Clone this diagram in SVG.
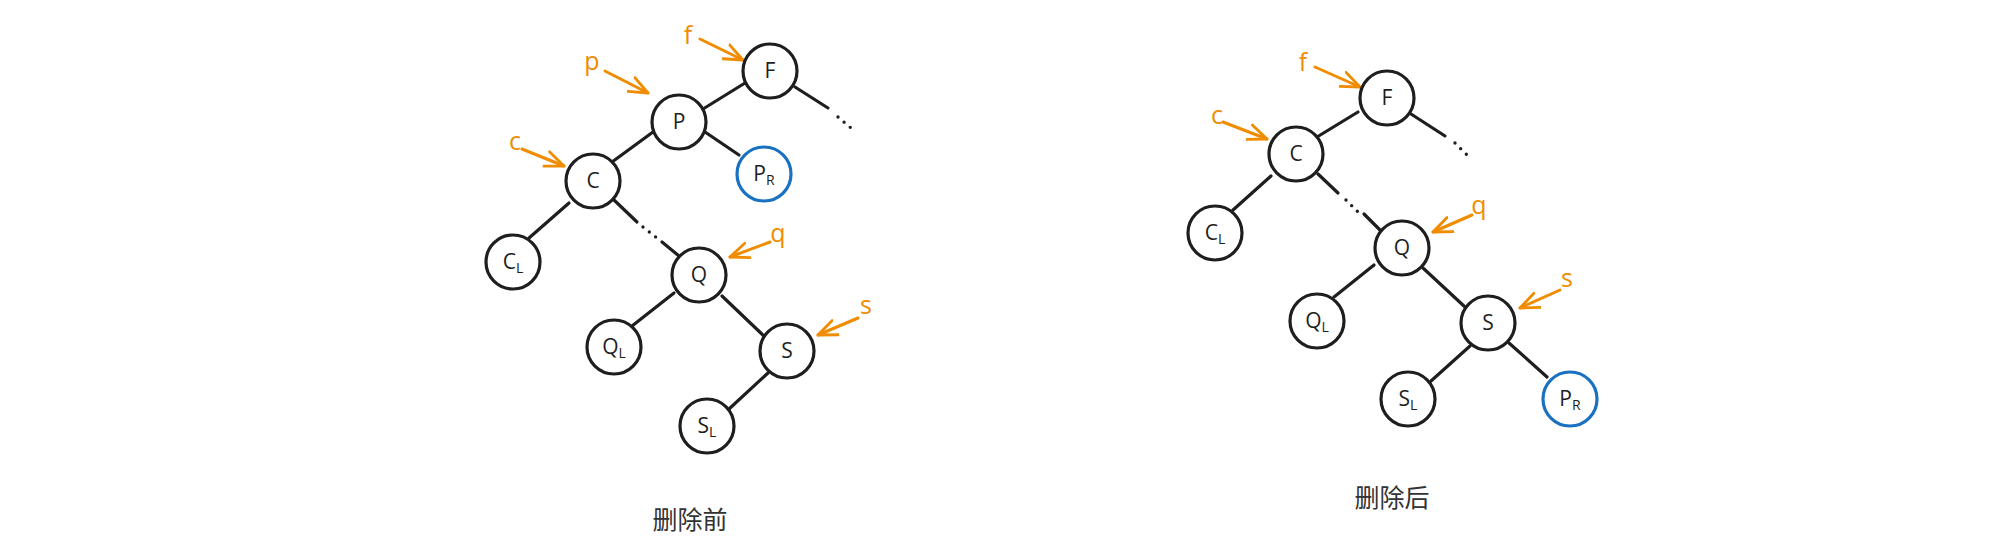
<svg xmlns="http://www.w3.org/2000/svg" width="2005" height="544" viewBox="0 0 2005 544">
<style>
.n{fill:#fff;stroke:#1e1e1e;stroke-width:3.2}
.b{fill:#fff;stroke:#1971c2;stroke-width:3.2}
.t{font-family:"Open Sans","Noto Sans",sans-serif;font-size:21px;fill:#1e1e1e;text-anchor:middle}
.sub{font-size:14px}
.e{stroke:#1e1e1e;stroke-width:3.2;stroke-linecap:round;fill:none}
.d{stroke:#1e1e1e;stroke-width:3.4;stroke-linecap:round;stroke-dasharray:0 8;fill:none}
.o{stroke:#f08c00;stroke-width:3;stroke-linecap:round;fill:none}
.ol{font-family:"Open Sans","Noto Sans",sans-serif;font-size:25px;fill:#f08c00;text-anchor:middle}
.cap{font-family:"Open Sans","Noto Sans CJK SC",sans-serif;font-size:25px;fill:#333;text-anchor:middle}
</style>
<defs>
<marker id="ah" viewBox="0 0 20 20" refX="18" refY="10" markerWidth="22" markerHeight="22" markerUnits="userSpaceOnUse" orient="auto">
<path d="M1,3 L18,10 L1,17" fill="none" stroke="#f08c00" stroke-width="2.6" stroke-linecap="round" stroke-linejoin="round"/>
</marker>
</defs>
<rect width="2005" height="544" fill="#fff"/>
<g id="connectors">
<line class="e" x1="745" y1="83" x2="703" y2="109"/>
<line class="e" x1="795" y1="87" x2="828" y2="108"/>
<path class="d" d="M838,117 L851,128"/>
<line class="e" x1="653" y1="132" x2="612" y2="162"/>
<line class="e" x1="705" y1="132" x2="739" y2="155"/>
<line class="e" x1="569" y1="203" x2="529" y2="238"/>
<line class="e" x1="614" y1="200" x2="637" y2="222"/>
<path class="d" d="M643,227 L657,238"/>
<line class="e" x1="662" y1="242" x2="679" y2="256"/>
<line class="e" x1="674" y1="293" x2="632" y2="326"/>
<line class="e" x1="722" y1="296" x2="765" y2="337"/>
<line class="e" x1="768" y1="373" x2="729" y2="409"/>
<line class="e" x1="1358" y1="112" x2="1317" y2="137"/>
<line class="e" x1="1411" y1="114" x2="1445" y2="136"/>
<path class="d" d="M1455,143 L1467,155"/>
<line class="e" x1="1271" y1="176" x2="1233" y2="210"/>
<line class="e" x1="1318" y1="174" x2="1338" y2="193"/>
<path class="d" d="M1346,200 L1359,213"/>
<line class="e" x1="1364" y1="214" x2="1380" y2="230"/>
<line class="e" x1="1374" y1="265" x2="1334" y2="297"/>
<line class="e" x1="1423" y1="268" x2="1465" y2="307"/>
<line class="e" x1="1470" y1="346" x2="1431" y2="381"/>
<line class="e" x1="1509" y1="343" x2="1547" y2="377"/>
<line class="o" x1="700" y1="39" x2="743" y2="60" marker-end="url(#ah)"/>
<line class="o" x1="605" y1="71" x2="648" y2="93" marker-end="url(#ah)"/>
<line class="o" x1="522" y1="149" x2="564" y2="166" marker-end="url(#ah)"/>
<line class="o" x1="770" y1="242" x2="730" y2="257" marker-end="url(#ah)"/>
<line class="o" x1="858" y1="318" x2="818" y2="335" marker-end="url(#ah)"/>
<line class="o" x1="1315" y1="67" x2="1360" y2="87" marker-end="url(#ah)"/>
<line class="o" x1="1223" y1="122" x2="1267" y2="139" marker-end="url(#ah)"/>
<line class="o" x1="1472" y1="215" x2="1433" y2="232" marker-end="url(#ah)"/>
<line class="o" x1="1560" y1="290" x2="1520" y2="308" marker-end="url(#ah)"/>
</g>
<g id="labels">
<text class="ol" x="688" y="44">f</text>
<text class="ol" x="592" y="70">p</text>
<text class="ol" x="515" y="150">c</text>
<text class="ol" x="778" y="242">q</text>
<text class="ol" x="866" y="314">s</text>
<text class="ol" x="1303" y="71">f</text>
<text class="ol" x="1217" y="124">c</text>
<text class="ol" x="1479" y="214">q</text>
<text class="ol" x="1567" y="287">s</text>
<text class="cap" x="690" y="529">删除前</text>
<text class="cap" x="1392" y="507">删除后</text>
</g>
<g id="before-F"><circle class="n" cx="770" cy="71" r="27"/><text class="t" x="770" y="78">F</text></g>
<g id="before-P"><circle class="n" cx="679" cy="122" r="27"/><text class="t" x="679" y="129">P</text></g>
<g id="before-PR"><circle class="b" cx="764" cy="174" r="27"/><text class="t" x="764" y="181">P<tspan class="sub" dy="4">R</tspan></text></g>
<g id="before-C"><circle class="n" cx="593" cy="181" r="27"/><text class="t" x="593" y="188">C</text></g>
<g id="before-CL"><circle class="n" cx="513" cy="262" r="27"/><text class="t" x="513" y="269">C<tspan class="sub" dy="4">L</tspan></text></g>
<g id="before-Q"><circle class="n" cx="699" cy="275" r="27"/><text class="t" x="699" y="282">Q</text></g>
<g id="before-QL"><circle class="n" cx="614" cy="347" r="27"/><text class="t" x="614" y="354">Q<tspan class="sub" dy="4">L</tspan></text></g>
<g id="before-S"><circle class="n" cx="787" cy="351" r="27"/><text class="t" x="787" y="358">S</text></g>
<g id="before-SL"><circle class="n" cx="707" cy="426" r="27"/><text class="t" x="707" y="433">S<tspan class="sub" dy="4">L</tspan></text></g>
<g id="after-F"><circle class="n" cx="1387" cy="98" r="27"/><text class="t" x="1387" y="105">F</text></g>
<g id="after-C"><circle class="n" cx="1296" cy="154" r="27"/><text class="t" x="1296" y="161">C</text></g>
<g id="after-CL"><circle class="n" cx="1215" cy="233" r="27"/><text class="t" x="1215" y="240">C<tspan class="sub" dy="4">L</tspan></text></g>
<g id="after-Q"><circle class="n" cx="1402" cy="248" r="27"/><text class="t" x="1402" y="255">Q</text></g>
<g id="after-QL"><circle class="n" cx="1317" cy="321" r="27"/><text class="t" x="1317" y="328">Q<tspan class="sub" dy="4">L</tspan></text></g>
<g id="after-S"><circle class="n" cx="1488" cy="323" r="27"/><text class="t" x="1488" y="330">S</text></g>
<g id="after-SL"><circle class="n" cx="1408" cy="399" r="27"/><text class="t" x="1408" y="406">S<tspan class="sub" dy="4">L</tspan></text></g>
<g id="after-PR"><circle class="b" cx="1570" cy="399" r="27"/><text class="t" x="1570" y="406">P<tspan class="sub" dy="4">R</tspan></text></g>
</svg>
